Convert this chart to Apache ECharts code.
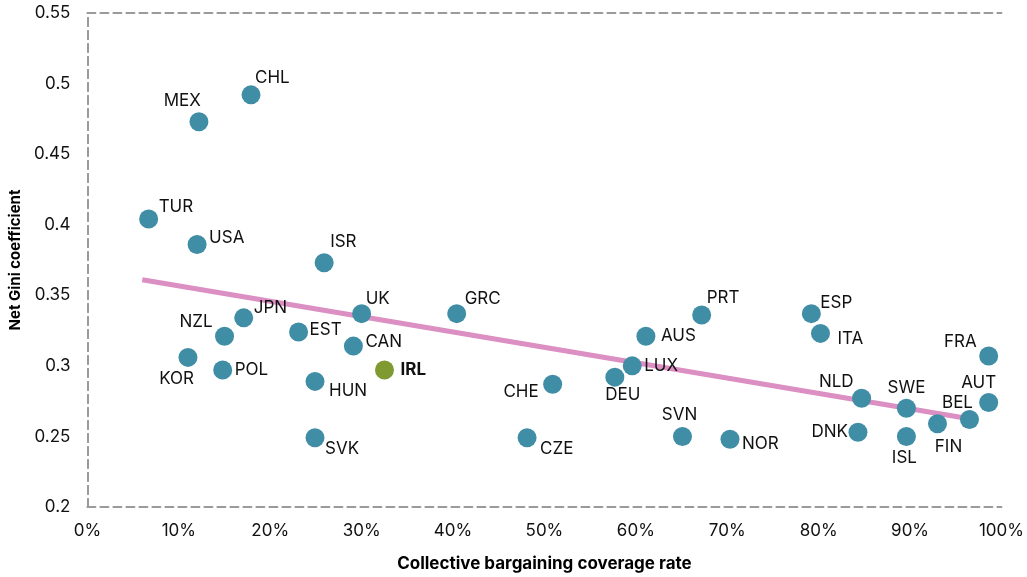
<!DOCTYPE html>
<html>
<head>
<meta charset="utf-8">
<script src="https://cdn.jsdelivr.net/npm/echarts@6/dist/echarts.min.js"></script>
<style>
  html, body { margin: 0; padding: 0; background: #fff; }
  #chart { width: 1027px; height: 577px; }
</style>
</head>
<body>
<div id="chart"></div>
<script>
// country codes, coverage rate (%) and net Gini
const countries = ['CHL', 'MEX', 'TUR', 'USA', 'ISR', 'JPN', 'NZL', 'EST', 'KOR', 'POL', 'HUN', 'SVK',
  'UK', 'GRC', 'CAN', 'IRL', 'CHE', 'CZE', 'AUS', 'LUX', 'DEU', 'SVN', 'NOR', 'PRT', 'ESP', 'ITA',
  'FRA', 'AUT', 'BEL', 'NLD', 'SWE', 'DNK', 'ISL', 'FIN']
const coverage = [17.9, 12.2, 6.7, 12.0, 25.9, 17.1, 15.0, 23.1, 11.0, 14.8, 24.9, 24.9,
  30.0, 40.4, 29.1, 32.5, 50.9, 48.1, 61.1, 59.6, 57.7, 65.1, 70.3, 67.2, 79.2, 80.2,
  98.6, 98.6, 96.5, 84.7, 89.6, 84.3, 89.6, 93.0]
const gini = [0.492, 0.473, 0.404, 0.386, 0.373, 0.334, 0.321, 0.324, 0.306, 0.297, 0.289, 0.249,
  0.337, 0.337, 0.314, 0.297, 0.287, 0.249, 0.321, 0.300, 0.292, 0.250, 0.248, 0.336, 0.337, 0.323,
  0.307, 0.274, 0.262, 0.277, 0.270, 0.253, 0.250, 0.259]
// fitted trend line end points
const trendX = [6, 96]
const trendY = [0.361, 0.263]
const highlight = 'IRL'

// label placement: [align, dx, dy] from the dot centre
const labelSpots = {
  CHL: ['left', 4, -17], MEX: ['right', 2, -21], TUR: ['left', 10, -12], USA: ['left', 12, -7],
  ISR: ['left', 6, -21], JPN: ['left', 10, -10], NZL: ['right', -12, -14], EST: ['left', 11, -2],
  KOR: ['right', 6, 22], POL: ['left', 12, 0], HUN: ['left', 14, 10], SVK: ['left', 10, 11],
  UK: ['left', 4, -15], GRC: ['left', 8, -15], CAN: ['left', 12, -4], IRL: ['left', 16, 0],
  CHE: ['right', -14, 8], CZE: ['left', 13, 11], AUS: ['left', 15, 0], LUX: ['left', 12, 0],
  DEU: ['center', 8, 18], SVN: ['center', -3, -22], NOR: ['left', 12, 5], PRT: ['left', 5, -17],
  ESP: ['left', 9, -11], ITA: ['left', 17, 5], FRA: ['right', -12, -14], AUT: ['center', -10, -20],
  BEL: ['center', -12, -17], NLD: ['right', -8, -16], SWE: ['center', 0, -20], DNK: ['right', -10, 0],
  ISL: ['center', -2, 21], FIN: ['center', 11, 23]
}

const font = 'Inter, "Noto Sans", sans-serif'
const dashed = { color: '#9a9a9a', width: 2, type: [8, 5] }

const points = countries.map((c, i) => {
  const spot = labelSpots[c]
  const hl = c === highlight
  return {
    name: c,
    value: [coverage[i], gini[i]],
    itemStyle: { color: hl ? '#7f9a30' : '#408da6', opacity: 1 },
    label: {
      align: spot[0],
      offset: [spot[1], spot[2]],
      fontWeight: hl ? 'bold' : 'normal'
    }
  }
})

const chart = echarts.init(document.getElementById('chart'))
chart.setOption({
  animation: false,
  backgroundColor: '#fff',
  textStyle: { fontFamily: font },
  grid: { left: 86, right: 21, top: 13, bottom: 66 },
  xAxis: [{
    type: 'value',
    min: 0, max: 100, interval: 10,
    name: 'Collective bargaining coverage rate',
    nameLocation: 'middle',
    nameGap: 48,
    nameTextStyle: { fontFamily: font, fontSize: 17, fontWeight: 'bold', color: '#000' },
    axisLine: { show: true, lineStyle: dashed },
    axisTick: { show: false },
    splitLine: { show: false },
    axisLabel: { formatter: '{value}%', fontSize: 17, color: '#111', margin: 15, fontFamily: font }
  }, {
    type: 'value', position: 'top', min: 0, max: 100,
    axisLine: { show: true, lineStyle: dashed },
    axisTick: { show: false }, axisLabel: { show: false }, splitLine: { show: false }
  }],
  yAxis: [{
    type: 'value',
    min: 0.2, max: 0.55, interval: 0.05,
    name: 'Net Gini coefficient',
    nameLocation: 'middle',
    nameGap: 61,
    nameTextStyle: { fontFamily: font, fontSize: 15, fontWeight: 'bold', color: '#000' },
    axisLine: { show: true, lineStyle: dashed },
    axisTick: { show: false },
    splitLine: { show: false },
    axisLabel: { fontSize: 17, color: '#111', margin: 17, fontFamily: font }
  }, {
    type: 'value', position: 'right', min: 0.2, max: 0.55,
    axisLine: { show: true, lineStyle: dashed },
    axisTick: { show: false }, axisLabel: { show: false }, splitLine: { show: false }
  }],
  series: [{
    type: 'line',
    data: trendX.map((x, i) => [x, trendY[i]]),
    symbol: 'none',
    lineStyle: { color: '#dc8fc2', width: 5 },
    z: 1
  }, {
    type: 'scatter',
    data: points,
    symbolSize: 19,
    z: 2,
    label: {
      show: true,
      position: 'inside',
      formatter: '{b}',
      verticalAlign: 'middle',
      fontSize: 17,
      color: '#111',
      fontFamily: font
    }
  }]
})
</script>
</body>
</html>
